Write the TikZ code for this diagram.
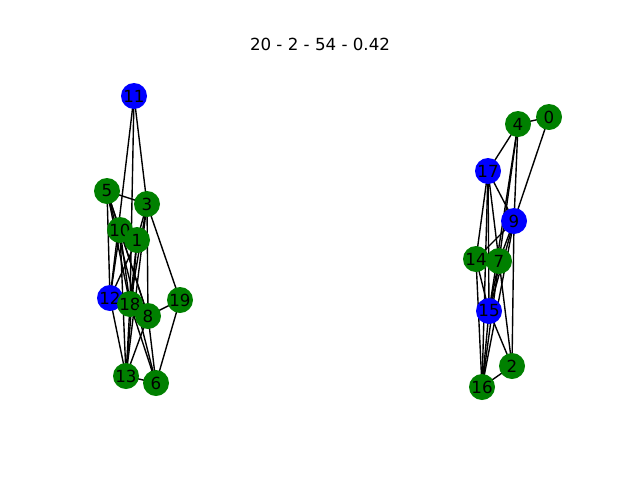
\documentclass[tikz,border=0pt]{standalone}
\usepackage{fontspec}
\setmainfont{DejaVu Sans}
\usetikzlibrary{backgrounds}
\definecolor{ngreen}{HTML}{008000}
\definecolor{nblue}{HTML}{0000FF}
\begin{document}
\begin{tikzpicture}[x=1pt,y=-1pt,
  vtx/.style={circle,minimum size=26pt,inner sep=0pt,font=\fontsize{16.67}{18}\selectfont},
  gv/.style={vtx,fill=ngreen},
  bv/.style={vtx,fill=nblue},
  edge/.style={line width=1.39pt,black}]
\useasboundingbox (0,0) rectangle (640,480);
\node (title) at (320,44) {\fontsize{16.67}{18}\selectfont 20 - 2 - 54 - 0.42};
% left component
\node[bv] (n11) at (134,96) {11};
\node[gv] (n5) at (107,191) {5};
\node[gv] (n3) at (147,204) {3};
\node[gv] (n10) at (120,230) {10};
\node[gv] (n1) at (137,240) {1};
\node[bv] (n12) at (110,298) {12};
\node[gv] (n18) at (130,304) {18};
\node[gv] (n8) at (148,316) {8};
\node[gv] (n19) at (180,300) {19};
\node[gv] (n13) at (126,376) {13};
\node[gv] (n6) at (156,383) {6};
% right component
\node[gv] (n0) at (549,117) {0};
\node[gv] (n4) at (518,124) {4};
\node[bv] (n17) at (488,171) {17};
\node[bv] (n9) at (514,221) {9};
\node[gv] (n14) at (476,259) {14};
\node[gv] (n7) at (499,261) {7};
\node[bv] (n15) at (489,311) {15};
\node[gv] (n2) at (512,366) {2};
\node[gv] (n16) at (482,387) {16};
\begin{scope}[on background layer]
\foreach \a/\b in {11/12,11/18,11/3,
  5/3,5/10,5/12,5/18,5/8,5/6,
  3/1,3/18,3/8,3/19,3/13,
  10/1,10/12,10/18,10/13,10/8,
  1/12,1/13,1/18,
  12/13,18/13,18/6,8/19,8/13,8/6,19/6,13/6,
  0/4,0/9,4/17,4/9,4/7,4/15,
  17/9,17/14,17/15,17/16,17/7,
  9/14,9/7,9/15,9/16,9/2,
  14/15,14/16,7/15,7/16,7/2,15/2,15/16,16/2}
  \draw[edge] (n\a.center) -- (n\b.center);
\end{scope}
\end{tikzpicture}
\end{document}
